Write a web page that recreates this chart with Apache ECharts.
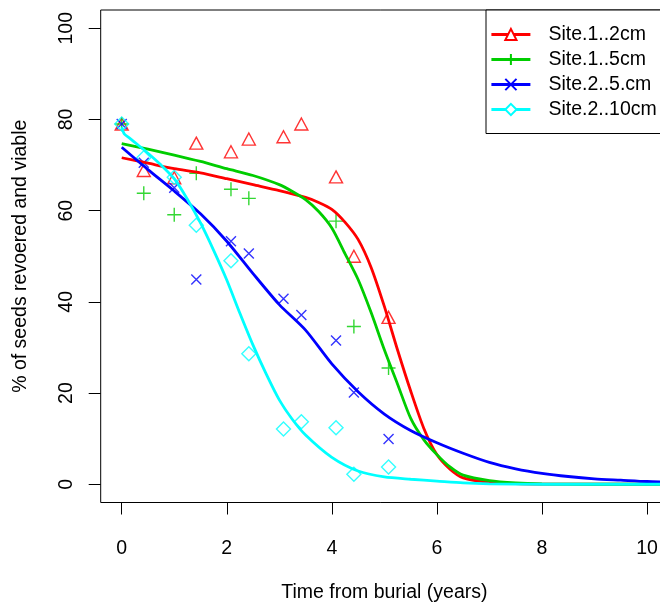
<!DOCTYPE html>
<html><head><meta charset="utf-8">
<script src="https://cdn.jsdelivr.net/npm/echarts@6/dist/echarts.min.js"></script>
<style>html,body{margin:0;padding:0;background:#fff}#c{width:660px;height:603px}</style>
</head><body><div id="c"></div>
<script>
// ---- observed points ----
const years = [0, 0.42, 1.0, 1.42, 2.08, 2.42, 3.08, 3.42, 4.08, 4.42, 5.08];
const site1_2cm  = [79.0, 68.8, 67.2, 74.8, 72.9, 75.7, 76.2, 79.0, 67.4, 50.0, 36.6];
const site1_5cm  = [79.0, 63.8, 59.1, 68.2, 64.7, 62.7, null, null, 57.7, 34.6, 25.5];
const site2_5cm  = [79.0, 70.5, 65.0, 44.9, 53.3, 50.6, 40.7, 37.1, 31.5, 20.1, 9.9];
const site2_10cm = [79.0, 71.6, 67.3, 56.8, 49.0, 28.6, 12.1, 13.7, 12.4, 2.2, 3.8];

// ---- fitted curves ----
const fitX_s1_2 = [0, 0.5, 1, 1.5, 2, 2.5, 3, 3.5, 3.75, 4, 4.25, 4.5, 4.75, 5, 5.25, 5.5, 5.75, 6, 6.25, 6.5, 7, 7.5, 8, 9, 10.4];
const fitY_s1_2 = [71.6, 70.4, 69.2, 68.3, 67.0, 65.7, 64.4, 62.9, 61.8, 60.3, 57.5, 53.7, 47.5, 39.0, 29.5, 20.5, 12.3, 6.5, 3.3, 1.4, 0.4, 0.15, 0.05, 0, 0];
const fitX_s1_5 = [0, 0.5, 1, 1.5, 2, 2.5, 3, 3.25, 3.5, 3.75, 4, 4.25, 4.5, 4.75, 5, 5.25, 5.5, 5.75, 6, 6.25, 6.5, 7, 7.5, 8, 9, 10.4];
const fitY_s1_5 = [74.7, 73.5, 72.2, 70.8, 69.2, 67.7, 65.7, 64.2, 62.4, 59.8, 56.2, 50.6, 44.9, 37.6, 29.5, 22.0, 14.5, 9.8, 6.5, 3.8, 2.0, 0.8, 0.3, 0.1, 0, 0];
const fitX_s2_5 = [0, 0.5, 1, 1.5, 2, 2.5, 3, 3.5, 4, 4.5, 5, 5.5, 6, 6.5, 7, 7.5, 8, 8.5, 9, 9.5, 10, 10.4];
const fitY_s2_5 = [73.9, 69.0, 64.3, 59.3, 53.3, 46.2, 39.4, 33.8, 26.4, 20.3, 15.4, 11.8, 9.1, 6.8, 4.8, 3.4, 2.4, 1.7, 1.2, 0.9, 0.6, 0.5];
const fitX_s2_10 = [0, 0.05, 0.15, 0.3, 0.5, 0.75, 1, 1.25, 1.5, 1.75, 2, 2.25, 2.5, 2.75, 3, 3.25, 3.5, 4, 4.5, 5, 5.5, 6, 6.5, 7, 8, 10.4];
const fitY_s2_10 = [78.3, 76.8, 75.9, 74.5, 72.6, 70.0, 67.0, 62.5, 57.3, 51.3, 44.8, 37.5, 30.5, 24.2, 18.5, 14.2, 10.8, 5.9, 2.9, 1.6, 1.1, 0.7, 0.3, 0.1, 0, 0];

// ---- labels / ticks ----
const seriesNames = ['Site.1..2cm', 'Site.1..5cm', 'Site.2..5.cm', 'Site.2..10cm'];
const xTicks = [0, 2, 4, 6, 8, 10];
const yTicks = [0, 20, 40, 60, 80, 100];
const xTitle = 'Time from burial (years)';
const yTitle = '% of seeds revoered and viable';

const colors = ['#FF0000', '#00CD00', '#0000FF', '#00FFFF'];
const FONT = 'Liberation Sans, Arial, sans-serif';
const PLUS = 'path://M0,6L12,6M6,0L6,12';
const CROSS = 'path://M0,0L10,10M0,10L10,0';

const pointSets = [site1_2cm, site1_5cm, site2_5cm, site2_10cm];
const fits = [[fitX_s1_2, fitY_s1_2], [fitX_s1_5, fitY_s1_5], [fitX_s2_5, fitY_s2_5], [fitX_s2_10, fitY_s2_10]];
const symbols = ['triangle', PLUS, CROSS, 'diamond'];
const legendSymbols = ['emptyTriangle', PLUS, CROSS, 'emptyDiamond'];
const symSizes = [[13, 12], [14, 14], [10, 10], [14, 14]];

const pairs = (xs, ys) => xs.map((x, i) => [x, ys[i]]).filter(p => p[1] !== null);

const series = [];
seriesNames.forEach((name, k) => {
  series.push({
    type: 'line', name: name, z: 4,
    data: pairs(fits[k][0], fits[k][1]),
    symbol: legendSymbols[k], showSymbol: false, smooth: 0.25,
    lineStyle: {color: colors[k], width: 2.8},
    itemStyle: {color: colors[k], borderColor: colors[k], borderWidth: 1.5},
    silent: true, animation: false
  });
});
seriesNames.forEach((name, k) => {
  series.push({
    type: 'scatter', name: name + ' obs', z: 3,
    data: pairs(years, pointSets[k]),
    symbol: symbols[k], symbolSize: symSizes[k],
    itemStyle: {color: 'rgba(0,0,0,0)', borderColor: colors[k], borderWidth: 1.4},
    silent: true, animation: false
  });
});

const chart = echarts.init(document.getElementById('c'), null, {renderer: 'canvas'});
chart.setOption({
  backgroundColor: '#fff',
  animation: false,
  textStyle: {fontFamily: FONT},
  grid: {left: 100.7, top: 10, width: 567.3, height: 492.5, containLabel: false, outerBoundsMode: 'none',
         show: true, borderColor: '#000', borderWidth: 1, backgroundColor: 'transparent'},
  xAxis: {
    type: 'value', min: -0.4, max: 10.4,
    axisLine: {show: false, onZero: false},
    axisTick: {show: true, length: 12, lineStyle: {color: '#000', width: 1}, customValues: xTicks},
    axisLabel: {color: '#000', fontSize: 19.5, fontFamily: FONT, margin: 36, customValues: xTicks},
    splitLine: {show: false},
    name: xTitle, nameLocation: 'middle', nameGap: 80,
    nameTextStyle: {color: '#000', fontSize: 19.5, fontFamily: FONT}
  },
  yAxis: {
    type: 'value', min: -4, max: 104,
    axisLine: {show: false, onZero: false},
    axisTick: {show: true, length: 12, lineStyle: {color: '#000', width: 1}, customValues: yTicks},
    axisLabel: {color: '#000', fontSize: 19.5, fontFamily: FONT, margin: 24, rotate: 90, customValues: yTicks},
    splitLine: {show: false},
    name: yTitle, nameLocation: 'middle', nameGap: 70, nameRotate: 90,
    nameTextStyle: {color: '#000', fontSize: 19.5, fontFamily: FONT}
  },
  legend: {
    orient: 'vertical', left: 486, top: 10,
    padding: [14.5, 16, 14, 4],
    itemWidth: 39, itemHeight: 14, itemGap: 5,
    borderColor: '#000', borderWidth: 1, backgroundColor: '#fff',
    selectedMode: false,
    textStyle: {color: '#000', fontSize: 19.5, fontFamily: FONT, lineHeight: 20, padding: [0, 0, 0, 13]},
    data: seriesNames.map((n, k) => ({
      name: n,
      itemStyle: {color: k === 0 || k === 3 ? colors[k] : 'rgba(0,0,0,0)', borderColor: colors[k], borderWidth: 2},
      lineStyle: {color: colors[k], width: 2.8}
    }))
  },
  series: series
});
</script>
</body></html>
